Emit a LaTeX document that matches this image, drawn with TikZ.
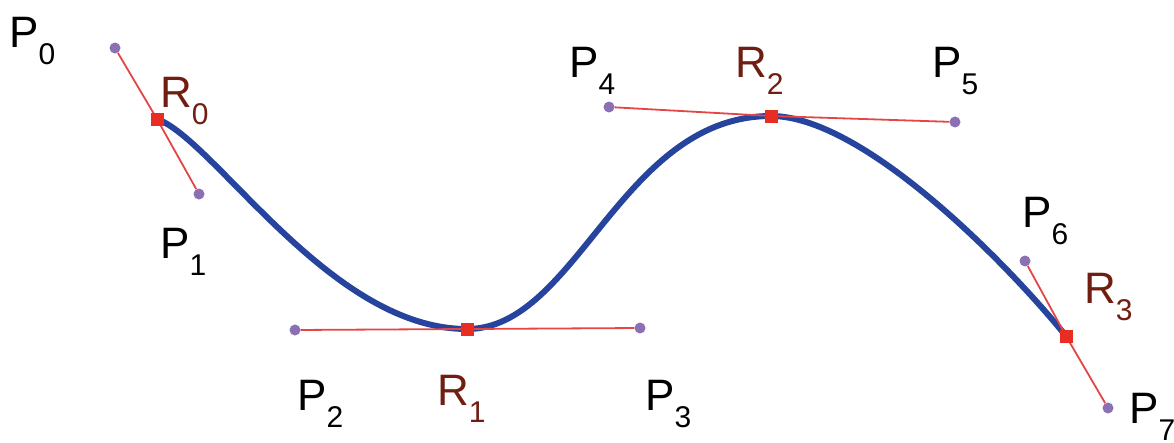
\documentclass[tikz,border=0pt]{standalone}
\usepackage{fontspec}
\setmainfont{Liberation Sans}
\definecolor{curveblue}{RGB}{38,68,158}
\definecolor{tanred}{RGB}{228,70,70}
\definecolor{dotpurple}{RGB}{140,112,180}
\definecolor{sqred}{RGB}{232,45,35}
\definecolor{rlabel}{RGB}{112,30,18}
\newcommand{\plbl}[2]{{\fontsize{44}{50}\selectfont #1\raisebox{-17pt}{\fontsize{30}{34}\selectfont #2}}}
\begin{document}
\begin{tikzpicture}[x=1pt,y=-1pt,
  ctrl/.style={circle,fill=dotpurple,inner sep=0pt,minimum size=11pt},
  knot/.style={rectangle,fill=sqred,inner sep=0pt,minimum size=13pt},
  tanline/.style={draw=tanred,line width=1.8pt},
  curveline/.style={draw=curveblue,line width=6pt,line cap=round},
  plab/.style={anchor=base west,inner sep=0pt,text=black},
  rlab/.style={anchor=base west,inner sep=0pt,text=rlabel}]
\useasboundingbox (0,0) rectangle (1174,442);
% knot coordinates and curve handles
\coordinate (k0) at (157,119);
\coordinate (k1) at (467,329);
\coordinate (k2) at (771,116);
\coordinate (k3) at (1066,336);
\coordinate (h0) at (215,140);
\coordinate (h1) at (330,329);
\coordinate (h2) at (577,329);
\coordinate (h3) at (621,116);
\coordinate (h4) at (860,116);
\coordinate (h5) at (1000,255);
% curve
\path[curveline] (k0) .. controls (h0) and (h1) .. (k1)
  .. controls (h2) and (h3) .. (k2)
  .. controls (h4) and (h5) .. (k3);
% control points
\node[ctrl] (p0) at (115,48) {};
\node[ctrl] (p1) at (199,194) {};
\node[ctrl] (p2) at (295,330) {};
\node[ctrl] (p3) at (640,328) {};
\node[ctrl] (p4) at (609,107) {};
\node[ctrl] (p5) at (955,122) {};
\node[ctrl] (p6) at (1025,261) {};
\node[ctrl] (p7) at (1108,408) {};
% tangent lines
\path[tanline] (p0) -- (k0) -- (p1);
\path[tanline] (p2) -- (k1) -- (p3);
\path[tanline] (p4) -- (k2) -- (p5);
\path[tanline] (p6) -- (k3) -- (p7);
% knots
\node[knot] (r0) at (k0) {};
\node[knot] (r1) at (k1) {};
\node[knot] (r2) at (k2) {};
\node[knot] (r3) at (k3) {};
% labels
\node[plab] (lp0) at (9,47) {\plbl{P}{0}};
\node[plab] (lp1) at (160,258) {\plbl{P}{1}};
\node[plab] (lp2) at (297,410) {\plbl{P}{2}};
\node[plab] (lp3) at (645,410) {\plbl{P}{3}};
\node[plab] (lp4) at (569,77) {\plbl{P}{4}};
\node[plab] (lp5) at (932,77) {\plbl{P}{5}};
\node[plab] (lp6) at (1022,227) {\plbl{P}{6}};
\node[plab] (lp7) at (1129,423) {\plbl{P}{7}};
\node[rlab] (lr0) at (160,107) {\plbl{R}{0}};
\node[rlab] (lr1) at (437,405) {\plbl{R}{1}};
\node[rlab] (lr2) at (735,77) {\plbl{R}{2}};
\node[rlab] (lr3) at (1084,303) {\plbl{R}{3}};
\end{tikzpicture}
\end{document}
